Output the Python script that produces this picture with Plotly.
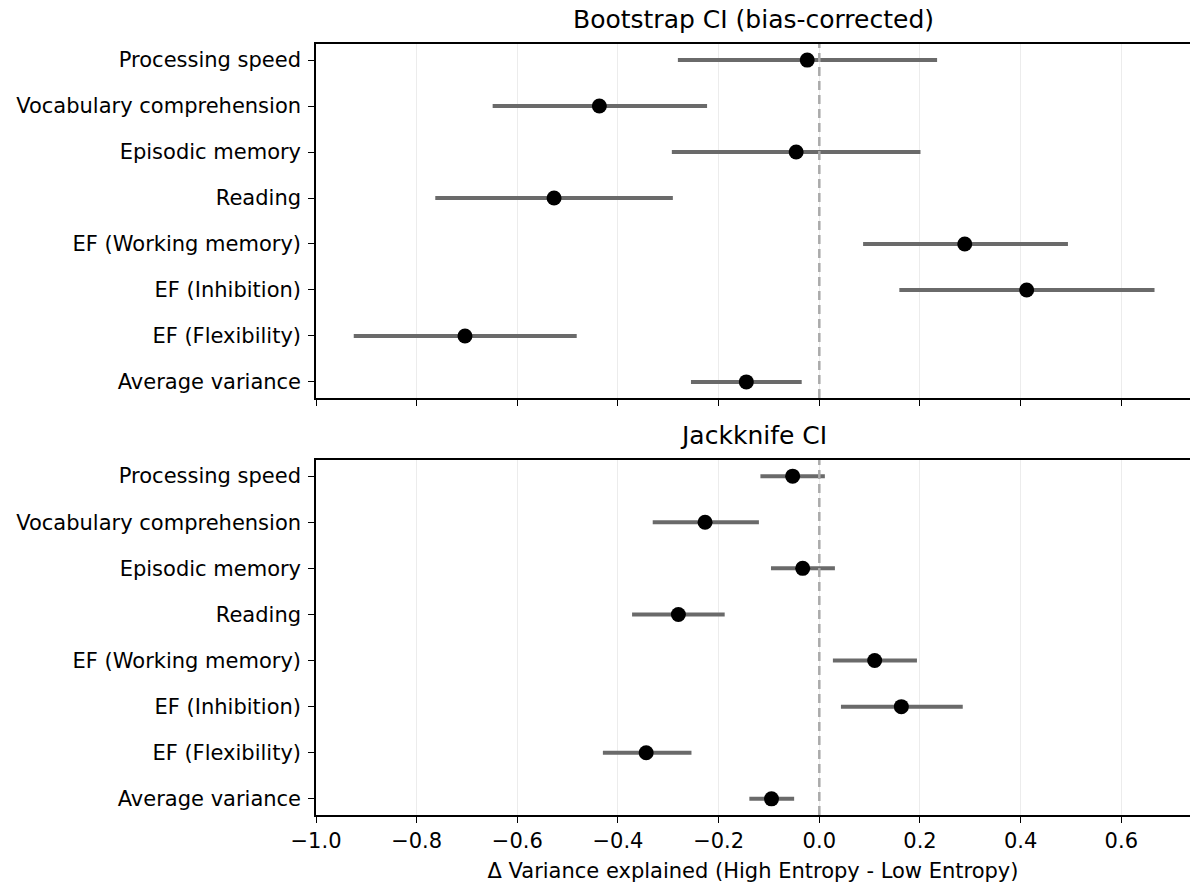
import plotly.graph_objects as go
from plotly.subplots import make_subplots

categories = ["Processing speed", "Vocabulary comprehension", "Episodic memory", "Reading",
              "EF (Working memory)", "EF (Inhibition)", "EF (Flexibility)", "Average variance"]

boot_est = [-0.024, -0.437, -0.046, -0.527, 0.289, 0.412, -0.704, -0.145]
boot_lo = [-0.281, -0.649, -0.293, -0.763, 0.087, 0.159, -0.925, -0.255]
boot_hi = [0.234, -0.223, 0.201, -0.291, 0.494, 0.666, -0.482, -0.035]

jack_est = [-0.053, -0.227, -0.033, -0.280, 0.110, 0.163, -0.344, -0.095]
jack_lo = [-0.117, -0.331, -0.096, -0.372, 0.027, 0.043, -0.430, -0.139]
jack_hi = [0.011, -0.120, 0.031, -0.188, 0.194, 0.285, -0.254, -0.050]

xtick_vals = [-1.0, -0.8, -0.6, -0.4, -0.2, 0.0, 0.2, 0.4, 0.6]
xtick_text = ["\u22121.0", "\u22120.8", "\u22120.6", "\u22120.4", "\u22120.2", "0.0", "0.2", "0.4", "0.6"]

panel_titles = ["Bootstrap CI (bias-corrected)", "Jackknife CI"]
x_title = "\u0394 Variance explained (High Entropy - Low Entropy)"

FONT = "DejaVu Sans"
W, H = 1190, 883
ML, MR, MT, MB = 316, 0, 44, 68
plot_h = H - MT - MB
top_dom = [(815 - 398) / plot_h, 1.0]
bot_dom = [0.0, (815 - 460) / plot_h]

fig = make_subplots(rows=2, cols=1, shared_xaxes=True)

for row, (est, lo, hi) in enumerate([(boot_est, boot_lo, boot_hi), (jack_est, jack_lo, jack_hi)], start=1):
    fig.add_trace(go.Scatter(
        x=est, y=categories, mode="markers",
        marker=dict(color="black", size=15),
        error_x=dict(type="data", symmetric=False,
                     array=[h - e for h, e in zip(hi, est)],
                     arrayminus=[e - l for e, l in zip(est, lo)],
                     color="#6a6a6a", thickness=4, width=0),
        showlegend=False, hoverinfo="x+y",
    ), row=row, col=1)
    fig.add_shape(type="line", x0=0, x1=0, y0=0, y1=1, xref=f"x{'' if row == 1 else row}",
                  yref=f"y{'' if row == 1 else row} domain",
                  line=dict(color="#aaaaaa", width=2.5, dash="9px,5px"), layer="above")

xcommon = dict(range=[-1.0, 0.7365], tickvals=xtick_vals, ticktext=xtick_text,
               showgrid=True, gridcolor="#ececec", gridwidth=1, zeroline=False,
               showline=True, linecolor="black", linewidth=1.5, mirror=True,
               ticks="outside", ticklen=6, tickwidth=1.2, tickcolor="black",
               tickfont=dict(family=FONT, size=21, color="black"))
ycommon = dict(categoryorder="array", categoryarray=categories,
               showgrid=False, zeroline=False,
               showline=True, linecolor="black", linewidth=1.5,
               ticks="outside", ticklen=6, tickwidth=1.2, tickcolor="black",
               ticklabelstandoff=3,
               tickfont=dict(family=FONT, size=21, color="black"))

fig.update_layout(
    width=W, height=H,
    margin=dict(l=ML, r=MR, t=MT, b=MB),
    plot_bgcolor="white", paper_bgcolor="white",
    font=dict(family=FONT, size=21, color="black"),
    xaxis=dict(**xcommon, showticklabels=False),
    xaxis2=dict(**xcommon, showticklabels=True,
                title=dict(text=x_title, font=dict(family=FONT, size=21, color="black"), standoff=12)),
    yaxis=dict(**ycommon, domain=top_dom, range=[7.35, -0.35]),
    yaxis2=dict(**ycommon, domain=bot_dom, range=[7.35, -0.35]),
)

fig.add_annotation(text=panel_titles[0], x=0.5, y=top_dom[1], xref="paper", yref="paper",
                   xanchor="center", yanchor="bottom", yshift=8, showarrow=False,
                   font=dict(family=FONT, size=25, color="black"))
fig.add_annotation(text=panel_titles[1], x=0.5, y=bot_dom[1], xref="paper", yref="paper",
                   xanchor="center", yanchor="bottom", yshift=8, showarrow=False,
                   font=dict(family=FONT, size=25, color="black"))

fig.write_html("out.html", config={"displayModeBar": False},
               post_script="document.body.style.margin='0';document.body.style.overflow='hidden';")
